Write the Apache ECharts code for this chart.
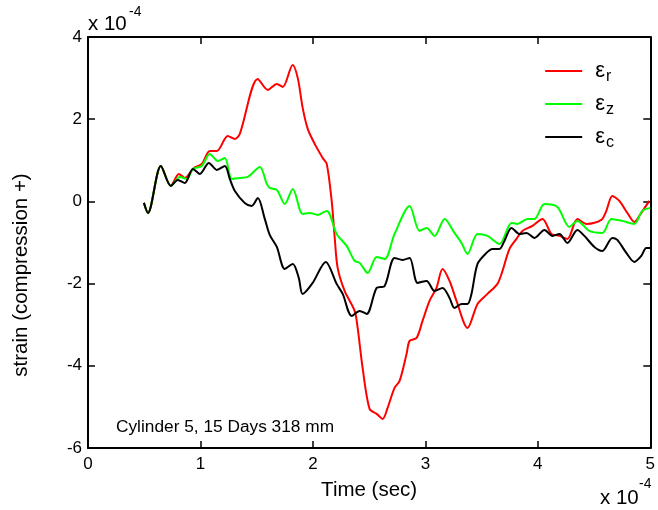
<!DOCTYPE html>
<html><head><meta charset="utf-8">
<script src="https://cdn.jsdelivr.net/npm/echarts@6/dist/echarts.min.js"></script>
<style>html,body{margin:0;padding:0;background:#fff}#c{width:658px;height:510px}</style>
</head><body><div id="c"></div>
<script>
// Time in units of 1e-4 s, strain in units of 1e-4
const timeR = [0.497,0.533,0.648,0.737,0.808,0.861,0.941,1.012,1.083,1.146,1.243,1.306,1.350,1.510,1.599,1.679,1.732,1.820,1.865,1.909,1.954,2.016,2.087,2.123,2.167,2.194,2.220,2.282,2.371,2.398,2.442,2.504,2.567,2.620,2.664,2.726,2.771,2.833,2.860,2.922,2.975,3.037,3.099,3.153,3.215,3.277,3.375,3.464,3.552,3.641,3.686,3.748,3.810,3.863,3.952,4.041,4.121,4.192,4.263,4.352,4.432,4.565,4.609,4.663,4.725,4.796,4.858,4.920,4.991];
const strainR = [-0.036,-0.280,0.864,0.377,0.669,0.572,0.815,0.912,1.229,1.229,1.594,1.521,1.642,2.981,2.713,2.859,2.786,3.321,3.005,2.275,1.764,1.399,1.058,0.912,0.012,-0.888,-1.618,-2.178,-2.664,-3.078,-4.051,-5.049,-5.170,-5.292,-5.024,-4.538,-4.367,-3.710,-3.394,-3.321,-2.908,-2.421,-2.105,-1.642,-1.934,-2.421,-3.078,-2.494,-2.251,-2.007,-1.691,-1.156,-0.912,-0.718,-0.596,-0.426,-0.791,-0.839,-0.912,-0.426,-0.547,-0.450,-0.231,0.134,0.012,-0.280,-0.499,-0.280,0.012];
const timeZ = [0.497,0.533,0.648,0.737,0.817,0.879,0.933,1.012,1.083,1.155,1.217,1.279,1.350,1.421,1.528,1.590,1.616,1.679,1.750,1.821,1.909,1.972,2.043,2.123,2.211,2.300,2.371,2.416,2.487,2.567,2.638,2.726,2.860,2.948,3.011,3.082,3.171,3.259,3.321,3.375,3.464,3.552,3.659,3.766,3.819,3.908,3.970,4.059,4.174,4.281,4.352,4.458,4.574,4.654,4.751,4.858,4.929,5.000];
const strainZ = [-0.036,-0.280,0.864,0.377,0.596,0.547,0.791,0.864,1.156,0.985,1.058,0.547,0.572,0.596,0.839,0.426,0.328,0.280,-0.061,0.304,-0.304,-0.280,-0.328,-0.231,-0.791,-1.083,-1.448,-1.496,-1.740,-1.350,-1.399,-0.791,-0.109,-0.718,-0.645,-0.839,-0.426,-0.766,-1.010,-1.277,-0.791,-0.839,-1.034,-0.523,-0.547,-0.426,-0.426,-0.061,-0.134,-0.620,-0.474,-0.718,-0.766,-0.426,-0.474,-0.547,-0.231,-0.158];
const timeC = [0.497,0.533,0.648,0.737,0.799,0.861,0.933,0.995,1.075,1.146,1.217,1.261,1.306,1.394,1.456,1.510,1.572,1.616,1.679,1.750,1.821,1.874,1.909,1.998,2.114,2.211,2.265,2.345,2.416,2.478,2.567,2.638,2.726,2.798,2.860,2.931,3.011,3.082,3.153,3.215,3.259,3.321,3.375,3.410,3.464,3.543,3.597,3.659,3.703,3.766,3.837,3.899,3.970,4.059,4.130,4.192,4.263,4.352,4.414,4.503,4.574,4.663,4.707,4.787,4.858,4.920,4.964,5.000];
const strainC = [-0.036,-0.280,0.864,0.377,0.523,0.450,0.791,0.669,0.937,0.766,0.864,0.547,0.255,-0.036,-0.109,0.085,-0.426,-0.815,-1.107,-1.642,-1.521,-1.861,-2.251,-1.983,-1.472,-2.007,-2.251,-2.786,-2.664,-2.737,-2.105,-2.056,-1.375,-1.423,-1.375,-1.983,-1.934,-2.178,-2.105,-2.348,-2.591,-2.494,-2.494,-2.251,-1.521,-1.253,-1.156,-1.156,-0.961,-0.645,-0.791,-0.766,-0.888,-0.693,-0.839,-0.791,-1.010,-0.693,-0.839,-1.107,-1.204,-0.888,-0.937,-1.253,-1.472,-1.326,-1.131,-1.131];
const seriesNames = ['εr','εz','εc'];
const subscripts = ['r','z','c'];
const colors = ['#ff0000','#00ff00','#000000'];
const xTicks = [0,1,2,3,4,5];
const yTicks = [-6,-4,-2,0,2,4];

const zip = (a,b) => a.map((v,i)=>[v,b[i]]);
const FONT = 'Liberation Sans, Arial, Helvetica, sans-serif';
const chart = echarts.init(document.getElementById('c'), null, {renderer:'canvas'});
const axisCommon = () => ({
  axisLine:{onZero:false,lineStyle:{color:'#000',width:2}},
  axisTick:{show:true,inside:true,length:7,lineStyle:{color:'#000',width:1.5}},
  splitLine:{show:false}
});
chart.setOption({
  animation:false,
  backgroundColor:'#fff',
  textStyle:{fontFamily:FONT},
  grid:{left:88,right:7,top:37,bottom:62,containLabel:false},
  xAxis:[
    Object.assign({type:'value',min:0,max:5,interval:1,position:'bottom',
      name:'Time (sec)',nameLocation:'middle',nameGap:32,
      nameTextStyle:{fontSize:20.5,color:'#000',fontFamily:FONT},
      axisLabel:{fontSize:17,color:'#000',margin:8,fontFamily:FONT,formatter:v=>xTicks.includes(v)?String(v):''}},axisCommon()),
    Object.assign({type:'value',min:0,max:5,interval:1,position:'top',axisLabel:{show:false}},axisCommon())
  ],
  yAxis:[
    Object.assign({type:'value',min:-6,max:4,interval:2,position:'left',
      axisLabel:{fontSize:17,color:'#000',margin:6,fontFamily:FONT,formatter:v=>yTicks.includes(v)?String(v):''}},axisCommon()),
    Object.assign({type:'value',min:-6,max:4,interval:2,position:'right',axisLabel:{show:false}},axisCommon())
  ],
  legend:{
    orient:'vertical',right:39,top:55,itemWidth:37,itemHeight:2,icon:'rect',itemGap:8,
    data:seriesNames,
    formatter:n=>'{e|ε}{s|'+subscripts[seriesNames.indexOf(n)]+'}',
    textStyle:{rich:{
      e:{fontSize:22,color:'#000',fontFamily:FONT,padding:[0,0,0,8]},
      s:{fontSize:16,color:'#000',fontFamily:FONT,verticalAlign:'bottom',padding:[12,0,0,1]}
    }}
  },
  graphic:[
    {type:'text',x:116,y:419,style:{text:'Cylinder 5, 15 Days 318 mm',font:'17.3px '+FONT,fill:'#000'}},
    {type:'text',x:21,y:275,rotation:Math.PI/2,
      style:{text:'strain (compression +)',font:'20.5px '+FONT,fill:'#000',textAlign:'center',textVerticalAlign:'middle'}},
    {type:'text',x:88,y:14,style:{text:'x 10',font:'20.5px '+FONT,fill:'#000'}},
    {type:'text',x:129,y:5,style:{text:'-4',font:'14px '+FONT,fill:'#000'}},
    {type:'text',x:600,y:488,style:{text:'x 10',font:'20.5px '+FONT,fill:'#000'}},
    {type:'text',x:639,y:477,style:{text:'-4',font:'14px '+FONT,fill:'#000'}}
  ],
  series:[
    {name:seriesNames[0],type:'line',xAxisIndex:0,yAxisIndex:0,data:zip(timeR,strainR),showSymbol:false,smooth:0.3,lineStyle:{color:colors[0],width:2},itemStyle:{color:colors[0]}},
    {name:seriesNames[1],type:'line',xAxisIndex:0,yAxisIndex:0,data:zip(timeZ,strainZ),showSymbol:false,smooth:0.3,lineStyle:{color:colors[1],width:2},itemStyle:{color:colors[1]}},
    {name:seriesNames[2],type:'line',xAxisIndex:0,yAxisIndex:0,data:zip(timeC,strainC),showSymbol:false,smooth:0.3,lineStyle:{color:colors[2],width:2},itemStyle:{color:colors[2]}}
  ]
});
</script></body></html>
